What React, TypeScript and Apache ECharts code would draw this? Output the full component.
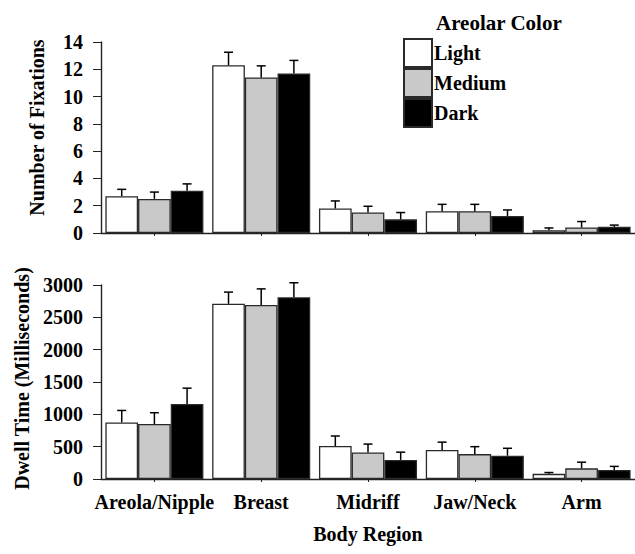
import React, { useEffect, useRef } from "react";
import * as echarts from "echarts";

const categories = ["Areola/Nipple", "Breast", "Midriff", "Jaw/Neck", "Arm"];
const seriesNames = ["Light", "Medium", "Dark"];

const fixLight = [2.7, 12.3, 1.8, 1.6, 0.2];
const fixMedium = [2.5, 11.4, 1.5, 1.6, 0.4];
const fixDark = [3.1, 11.7, 1.0, 1.25, 0.45];
const fixLightErr = [0.5, 0.95, 0.55, 0.5, 0.17];
const fixMediumErr = [0.5, 0.85, 0.46, 0.5, 0.44];
const fixDarkErr = [0.5, 0.95, 0.5, 0.44, 0.13];

const dwellLight = [875, 2710, 510, 450, 80];
const dwellMedium = [850, 2690, 410, 385, 165];
const dwellDark = [1160, 2810, 295, 360, 140];
const dwellLightErr = [185, 180, 155, 120, 20];
const dwellMediumErr = [175, 250, 130, 115, 95];
const dwellDarkErr = [245, 225, 120, 115, 55];

const FONT = "Liberation Serif";
const fills = ["#ffffff", "#c9c9c9", "#000000"];
const BAR_FRACTION = 0.306;

export default function App() {
  const ref = useRef<HTMLDivElement>(null);

  useEffect(() => {
    if (!ref.current) return;
    const chart = echarts.init(ref.current, undefined, { renderer: "svg" });

    const textBase = { fontFamily: FONT, fontWeight: "bold" as const, color: "#000", fontSize: 20 };

    const barSeries = (gridIdx: number, vals: number[][]) =>
      vals.map((v, s) => ({
        type: "bar",
        name: seriesNames[s],
        xAxisIndex: gridIdx,
        yAxisIndex: gridIdx,
        data: v,
        barWidth: BAR_FRACTION * 100 + "%",
        barGap: "0%",
        itemStyle: { color: fills[s], borderColor: "#2a2a2a", borderWidth: 1.3 },
        z: 2,
      }));

    const errSeries = (gridIdx: number, vals: number[][], errs: number[][]) =>
      vals.map((v, s) => ({
        type: "custom",
        name: seriesNames[s] + " error",
        xAxisIndex: gridIdx,
        yAxisIndex: gridIdx,
        z: 3,
        data: v.map((val, i) => [i, val, errs[s][i]]),
        encode: { x: 0, y: 1 },
        renderItem: (params: any, api: any) => {
          const cat = api.value(0);
          const val = api.value(1);
          const err = api.value(2);
          const bottom = api.coord([cat, val]);
          const top = api.coord([cat, val + err]);
          const band = api.size([1, 0])[0];
          const dx = (s - 1) * band * BAR_FRACTION;
          const x = bottom[0] + dx;
          const capHalf = 4.5;
          const style = { stroke: "#000", lineWidth: 1.5 };
          return {
            type: "group",
            children: [
              { type: "line", shape: { x1: x, y1: bottom[1], x2: x, y2: top[1] }, style },
              { type: "line", shape: { x1: x - capHalf, y1: top[1], x2: x + capHalf, y2: top[1] }, style },
            ],
          };
        },
      }));

    const axisLine = { show: true, lineStyle: { color: "#222", width: 1.4 } };
    const plain = (v: number) => String(v);

    chart.setOption({
      animation: false,
      backgroundColor: "#ffffff",
      title: {
        text: "Areolar Color",
        left: 436,
        top: 12,
        padding: 0,
        textStyle: { ...textBase, fontSize: 21 },
      },
      legend: {
        data: seriesNames,
        orient: "vertical",
        left: 403,
        top: 38,
        padding: 0,
        itemWidth: 28,
        itemHeight: 28,
        itemGap: 0,
        icon: "rect",
        textStyle: { ...textBase, fontSize: 20, padding: [0, 0, 0, -3] },
        selectedMode: false,
      },
      grid: [
        { left: 101, right: 0, top: 42, height: 191 },
        { left: 101, right: 0, top: 285, height: 194 },
      ],
      xAxis: [
        {
          type: "category",
          gridIndex: 0,
          data: categories,
          axisLine,
          axisTick: { show: true, alignWithLabel: true, length: 3, lineStyle: { color: "#222" } },
          axisLabel: { show: false },
        },
        {
          type: "category",
          gridIndex: 1,
          data: categories,
          name: "Body Region",
          nameLocation: "middle",
          nameGap: 45,
          nameTextStyle: textBase,
          axisLine,
          axisTick: { show: true, alignWithLabel: true, length: 3, lineStyle: { color: "#222" } },
          axisLabel: { ...textBase, margin: 13, interval: 0 },
        },
      ],
      yAxis: [
        {
          type: "value",
          gridIndex: 0,
          min: 0,
          max: 14,
          interval: 2,
          name: "Number of Fixations",
          nameLocation: "middle",
          nameGap: 54,
          nameTextStyle: { ...textBase, padding: [0, 0, 0, 20] },
          axisLine,
          axisTick: { show: true, length: 8, lineStyle: { color: "#222" } },
          axisLabel: { ...textBase, margin: 18, formatter: plain },
          splitLine: { show: false },
        },
        {
          type: "value",
          gridIndex: 1,
          min: 0,
          max: 3000,
          interval: 500,
          name: "Dwell Time (Milliseconds)",
          nameLocation: "middle",
          nameGap: 67,
          nameTextStyle: { ...textBase, padding: [0, 0, 0, 7] },
          axisLine,
          axisTick: { show: true, length: 8, lineStyle: { color: "#222" } },
          axisLabel: { ...textBase, margin: 18, formatter: plain },
          splitLine: { show: false },
        },
      ],
      series: [
        ...barSeries(0, [fixLight, fixMedium, fixDark]),
        ...barSeries(1, [dwellLight, dwellMedium, dwellDark]),
        ...errSeries(0, [fixLight, fixMedium, fixDark], [fixLightErr, fixMediumErr, fixDarkErr]),
        ...errSeries(1, [dwellLight, dwellMedium, dwellDark], [dwellLightErr, dwellMediumErr, dwellDarkErr]),
      ],
    });

    return () => chart.dispose();
  }, []);

  return (
    <div
      ref={ref}
      style={{ position: "fixed", left: 0, top: 0, width: 635, height: 554, background: "#fff" }}
    />
  );
}
